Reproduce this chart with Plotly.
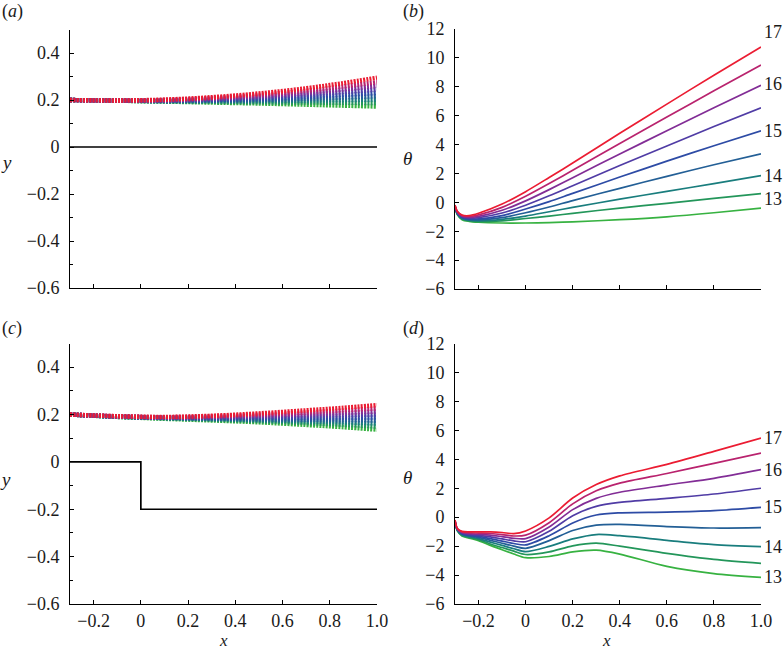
import plotly.graph_objects as go

# ---------------- data ----------------
params = [13, 13.5, 14, 14.5, 15, 15.5, 16, 16.5, 17]
colors = ["rgb(55,178,65)", "rgb(35,150,90)", "rgb(25,125,125)", "rgb(35,95,150)",
          "rgb(45,75,165)", "rgb(80,60,165)", "rgb(130,45,150)", "rgb(185,35,110)",
          "rgb(235,28,50)"]

# panel (a): wire shape y(x)
xa = [-0.3, -0.1, 0.1, 0.3, 0.5, 0.7, 0.85, 1.0]
ya = [
    [0.200, 0.197, 0.193, 0.189, 0.185, 0.180, 0.176, 0.172],
    [0.200, 0.197, 0.194, 0.192, 0.190, 0.189, 0.188, 0.187],
    [0.200, 0.197, 0.195, 0.195, 0.195, 0.197, 0.199, 0.202],
    [0.200, 0.197, 0.196, 0.198, 0.200, 0.205, 0.210, 0.216],
    [0.200, 0.197, 0.197, 0.200, 0.205, 0.213, 0.221, 0.230],
    [0.200, 0.197, 0.198, 0.203, 0.211, 0.222, 0.233, 0.245],
    [0.200, 0.198, 0.199, 0.206, 0.216, 0.230, 0.244, 0.260],
    [0.200, 0.198, 0.200, 0.209, 0.222, 0.240, 0.257, 0.276],
    [0.200, 0.198, 0.202, 0.212, 0.228, 0.250, 0.271, 0.295],
]
# panel (c): wire shape y(x) over a step
xc = [-0.3, -0.1, 0.1, 0.3, 0.5, 0.7, 0.85, 1.0]
yc = [
    [0.200, 0.190, 0.182, 0.175, 0.167, 0.156, 0.147, 0.136],
    [0.200, 0.190, 0.184, 0.178, 0.172, 0.164, 0.157, 0.149],
    [0.200, 0.191, 0.185, 0.181, 0.176, 0.171, 0.167, 0.162],
    [0.200, 0.191, 0.186, 0.183, 0.180, 0.178, 0.176, 0.175],
    [0.200, 0.192, 0.187, 0.185, 0.185, 0.185, 0.186, 0.188],
    [0.200, 0.192, 0.188, 0.188, 0.190, 0.193, 0.196, 0.200],
    [0.200, 0.192, 0.188, 0.190, 0.195, 0.201, 0.206, 0.213],
    [0.200, 0.193, 0.189, 0.193, 0.200, 0.209, 0.217, 0.226],
    [0.200, 0.193, 0.190, 0.195, 0.205, 0.218, 0.228, 0.240],
]
# substrate profiles
sub_a_x = [-0.3, 1.0]
sub_a_y = [0.0, 0.0]
sub_c_x = [-0.3, 0.0, 0.0, 1.0]
sub_c_y = [0.0, 0.0, -0.2, -0.2]

# panel (b): theta(x)
xb = [-0.3, -0.29, -0.27, -0.24, -0.2, -0.1, 0.0, 0.1, 0.2, 0.4, 0.6, 0.8, 1.0]
yb = [
    [-0.35, -0.85, -1.20, -1.32, -1.38, -1.43, -1.43, -1.40, -1.35, -1.20, -1.00, -0.72, -0.40],
    [-0.33, -0.82, -1.15, -1.28, -1.33, -1.28, -1.12, -0.95, -0.76, -0.40, -0.07, 0.27, 0.60],
    [-0.31, -0.80, -1.12, -1.24, -1.28, -1.18, -0.95, -0.65, -0.35, 0.22, 0.76, 1.30, 1.85],
    [-0.29, -0.77, -1.08, -1.20, -1.22, -1.06, -0.72, -0.32, 0.12, 0.97, 1.80, 2.60, 3.35],
    [-0.27, -0.74, -1.04, -1.15, -1.15, -0.92, -0.46, 0.05, 0.62, 1.75, 2.85, 3.92, 4.95],
    [-0.25, -0.71, -1.00, -1.10, -1.06, -0.74, -0.20, 0.45, 1.15, 2.55, 3.90, 5.25, 6.55],
    [-0.23, -0.68, -0.96, -1.04, -0.97, -0.55, 0.10, 0.88, 1.70, 3.35, 4.95, 6.55, 8.10],
    [-0.21, -0.65, -0.92, -0.98, -0.87, -0.35, 0.42, 1.30, 2.22, 4.08, 5.90, 7.72, 9.50],
    [-0.19, -0.62, -0.88, -0.92, -0.76, -0.12, 0.74, 1.72, 2.72, 4.78, 6.80, 8.80, 10.75],
]
# panel (d): theta(x)
xd = [-0.3, -0.29, -0.27, -0.24, -0.2, -0.15, -0.1, -0.05, 0.0, 0.1, 0.2, 0.3, 0.4, 0.6, 0.8, 1.0]
yd = [
    [-0.35, -0.95, -1.30, -1.45, -1.62, -1.95, -2.25, -2.55, -2.80, -2.72, -2.40, -2.28, -2.55, -3.40, -3.90, -4.16],
    [-0.33, -0.92, -1.26, -1.40, -1.55, -1.85, -2.10, -2.35, -2.58, -2.40, -1.98, -1.80, -2.00, -2.50, -2.92, -3.19],
    [-0.31, -0.90, -1.22, -1.35, -1.48, -1.72, -1.95, -2.18, -2.38, -2.02, -1.50, -1.20, -1.28, -1.60, -1.90, -2.03],
    [-0.29, -0.88, -1.18, -1.30, -1.40, -1.60, -1.80, -2.00, -2.15, -1.62, -0.92, -0.55, -0.50, -0.65, -0.75, -0.72],
    [-0.27, -0.86, -1.14, -1.25, -1.33, -1.48, -1.65, -1.82, -1.92, -1.28, -0.40, 0.15, 0.30, 0.35, 0.45, 0.67],
    [-0.25, -0.84, -1.10, -1.20, -1.26, -1.36, -1.50, -1.64, -1.70, -0.98, 0.10, 0.75, 1.02, 1.30, 1.60, 2.00],
    [-0.23, -0.82, -1.06, -1.14, -1.18, -1.24, -1.35, -1.46, -1.48, -0.68, 0.52, 1.30, 1.72, 2.22, 2.68, 3.28],
    [-0.21, -0.80, -1.02, -1.08, -1.10, -1.13, -1.20, -1.30, -1.24, -0.38, 0.92, 1.82, 2.35, 3.02, 3.72, 4.43],
    [-0.19, -0.78, -0.98, -1.02, -1.02, -1.02, -1.06, -1.14, -0.95, -0.05, 1.32, 2.25, 2.85, 3.65, 4.55, 5.47],
]
label_text = ["17", "16", "15", "14", "13"]
label_b = [11.8, 8.2, 4.95, 1.85, 0.25]
label_d = [5.5, 3.28, 0.67, -2.03, -4.16]
panel_letters = ["a", "b", "c", "d"]

# ---------------- figure ----------------
FONT = "Liberation Serif, Times New Roman, serif"
TXT = "#1a1a1a"
fig = go.Figure()

def add_wire(xs, ys_list, xa_name, ya_name):
    for ys, c in zip(ys_list, colors):
        fig.add_trace(go.Scatter(x=xs, y=ys, mode="lines", xaxis=xa_name, yaxis=ya_name,
                                 line=dict(color=c, width=4.4, dash="2px,1.2px", shape="spline"),
                                 showlegend=False, hoverinfo="skip"))

def add_theta(xs, ys_list, xa_name, ya_name):
    for ys, c in zip(ys_list, colors):
        fig.add_trace(go.Scatter(x=xs, y=ys, mode="lines", xaxis=xa_name, yaxis=ya_name,
                                 line=dict(color=c, width=1.7, shape="spline", smoothing=0.8),
                                 showlegend=False, hoverinfo="skip"))

add_wire(xa, ya, "x", "y")
fig.add_trace(go.Scatter(x=sub_a_x, y=sub_a_y, mode="lines", xaxis="x", yaxis="y",
                         line=dict(color="black", width=1.7), showlegend=False, hoverinfo="skip"))
add_theta(xb, yb, "x2", "y2")
add_wire(xc, yc, "x3", "y3")
fig.add_trace(go.Scatter(x=sub_c_x, y=sub_c_y, mode="lines", xaxis="x3", yaxis="y3",
                         line=dict(color="black", width=1.7), showlegend=False, hoverinfo="skip"))
add_theta(xd, yd, "x4", "y4")

W, H = 784, 650
def px(x0, x1):
    return [x0 / W, x1 / W]
def py(top, bottom):
    return [(H - bottom) / H, (H - top) / H]

xdomL = px(70, 377)
xdomR = px(455, 761)
ydomT_a = py(29.5, 288)
ydomT_b = py(29, 289)
ydomB = py(343.5, 604)

def xaxis_cfg(domain, anchor, labels):
    return dict(domain=domain, anchor=anchor, range=[-0.3, 1.0], tickvals=[-0.2, 0, 0.2, 0.4, 0.6, 0.8, 1.0],
                ticktext=["\u22120.2", "0", "0.2", "0.4", "0.6", "0.8", "1.0"],
                showticklabels=labels, ticks="inside", ticklen=4, tickcolor="black",
                showline=True, linecolor="black", linewidth=1, showgrid=False, zeroline=False,
                ticklabelstandoff=0, automargin=False,
                tickfont=dict(family=FONT, size=18, color=TXT), fixedrange=True)

def yaxis_cfg_small(domain, anchor):
    vals = [-0.6, -0.4, -0.2, 0, 0.2, 0.4]
    return dict(domain=domain, anchor=anchor, range=[-0.6, 0.5], tickvals=vals,
                ticktext=[("\u2212" + f"{abs(v):.1f}") if v < 0 else ("0" if v == 0 else f"{v:.1f}") for v in vals],
                ticks="inside", ticklen=4, tickcolor="black",
                minor=dict(tickvals=[-0.5, -0.3, -0.1, 0.1, 0.3, 0.5], ticks="inside", ticklen=3, tickcolor="black"),
                showline=True, linecolor="black", linewidth=1, showgrid=False, zeroline=False,
                ticklabelstandoff=6, automargin=False,
                tickfont=dict(family=FONT, size=18, color=TXT), fixedrange=True)

def yaxis_cfg_theta(domain, anchor):
    vals = [-6, -4, -2, 0, 2, 4, 6, 8, 10, 12]
    return dict(domain=domain, anchor=anchor, range=[-6, 12], tickvals=vals,
                ticktext=[("\u2212" + str(abs(v))) if v < 0 else str(v) for v in vals],
                ticks="inside", ticklen=4, tickcolor="black",
                showline=True, linecolor="black", linewidth=1, showgrid=False, zeroline=False,
                ticklabelstandoff=6, automargin=False,
                tickfont=dict(family=FONT, size=18, color=TXT), fixedrange=True)

fig.update_layout(
    width=W, height=H, margin=dict(l=0, r=0, t=0, b=0, autoexpand=False), autosize=False,
    plot_bgcolor="white", paper_bgcolor="white", showlegend=False,
    xaxis=xaxis_cfg(xdomL, "y", False), yaxis=yaxis_cfg_small(ydomT_a, "x"),
    xaxis2=xaxis_cfg(xdomR, "y2", False), yaxis2=yaxis_cfg_theta(ydomT_b, "x2"),
    xaxis3=xaxis_cfg(xdomL, "y3", True), yaxis3=yaxis_cfg_small(ydomB, "x3"),
    xaxis4=xaxis_cfg(xdomR, "y4", True), yaxis4=yaxis_cfg_theta(ydomB, "x4"),
)

ann = []
# curve labels
for t, v in zip(label_text, label_b):
    ann.append(dict(x=1.0, y=v, xref="x2", yref="y2", text=t, showarrow=False, xanchor="left",
                    xshift=1, font=dict(family=FONT, size=18, color=TXT)))
for t, v in zip(label_text, label_d):
    ann.append(dict(x=1.0, y=v, xref="x4", yref="y4", text=t, showarrow=False, xanchor="left",
                    xshift=1, font=dict(family=FONT, size=18, color=TXT)))
# panel letters
for (lx, ly), l in zip([(0, 12), (401, 12), (0, 328), (401, 328)], panel_letters):
    ann.append(dict(x=lx / W, y=(H - ly) / H, xref="paper", yref="paper", showarrow=False,
                    xanchor="left", yanchor="middle", text=f"(<i>{l}</i>)",
                    font=dict(family=FONT, size=18, color=TXT)))
# axis titles
for (lx, ly, t) in [(6, 163, "<i>y</i>"), (5, 479, "<i>y</i>"),
                    (407, 158, "<i>\u03b8</i>"), (407, 478, "<i>\u03b8</i>")]:
    ann.append(dict(x=lx / W, y=(H - ly) / H, xref="paper", yref="paper", showarrow=False,
                    xanchor="center", yanchor="middle", text=t,
                    font=dict(family=FONT, size=19, color=TXT)))
for (lx, t) in [(223, "<i>x</i>"), (606, "<i>x</i>")]:
    ann.append(dict(x=lx / W, y=0, xref="paper", yref="paper", showarrow=False,
                    xanchor="center", yanchor="bottom", yshift=-1, borderpad=0, text=t,
                    font=dict(family=FONT, size=17, color=TXT)))
fig.update_layout(annotations=ann)

fig.write_html("out.html", config={"displayModeBar": False, "responsive": False},
               post_script="document.documentElement.style.margin='0';document.body.style.margin='0';"
                           "document.documentElement.style.overflow='hidden';document.body.style.overflow='hidden';")
